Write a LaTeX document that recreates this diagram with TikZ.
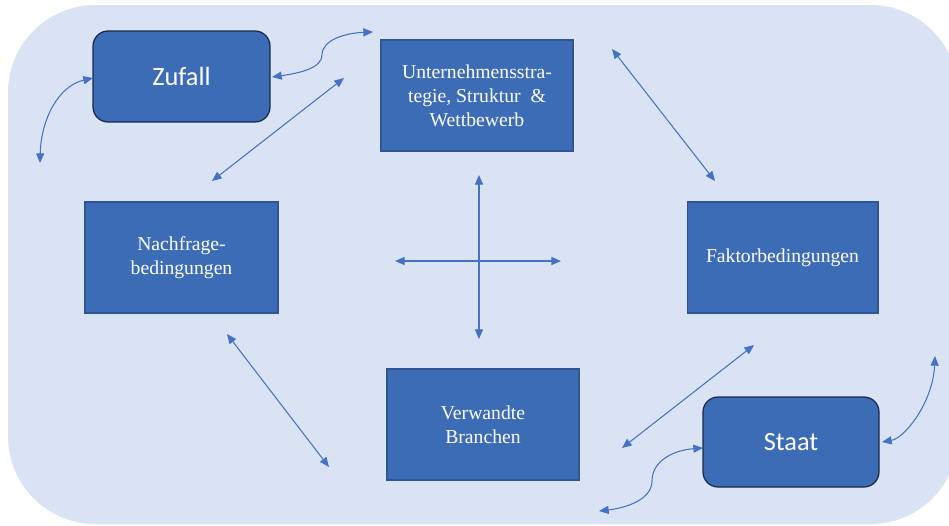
\documentclass[tikz,border=0pt]{standalone}
\usepackage{fontspec}
\setmainfont{Liberation Serif}
\newfontfamily\calib{Carlito}
\usetikzlibrary{arrows.meta}
\definecolor{bgblue}{RGB}{218,227,243}
\definecolor{boxblue}{RGB}{61,108,182}
\definecolor{boxedge}{RGB}{47,85,151}
\definecolor{navy}{RGB}{23,40,72}
\definecolor{arrowblue}{RGB}{68,114,196}
\tikzset{
  sqbox/.style={draw=boxedge, line width=0.6pt, fill=boxblue, text=white, align=center,
    minimum width=3.84cm, minimum height=2.22cm, inner sep=0pt,
    font=\fontsize{11.2}{13.6}\selectfont},
  rbox/.style={draw=navy, line width=0.7pt, fill=boxblue, text=white, rounded corners=0.3cm,
    inner sep=0pt, font=\calib\fontsize{15}{18}\selectfont},
  link/.style={draw=arrowblue, line width=0.6pt,
    {Triangle[length=5.5pt,width=4.6pt]}-{Triangle[length=5.5pt,width=4.6pt]}}
}
\begin{document}
\begin{tikzpicture}[x=0.02cm, y=-0.02cm]
\useasboundingbox (0,0) rectangle (949,525);
\clip (0,0) rectangle (949,525);
\fill[bgblue, rounded corners=1.75cm] (8,5) rectangle (958,524);

\node[rbox, minimum width=3.54cm, minimum height=1.82cm] (zufall) at (181.5,76.5) {Zufall};
\node[sqbox] (unter) at (477,95.5) {Unternehmensstra-\\tegie, Struktur~ \&\\Wettbewerb};
\node[sqbox, minimum width=3.86cm] (nach) at (181.5,257.5) {Nachfrage-\\bedingungen};
\node[sqbox, minimum width=3.82cm] (faktor) at (782.5,257.5) {Faktorbedingungen};
\node[sqbox] (verw) at (483,424.5) {Verwandte\\Branchen};
\node[rbox, minimum width=3.52cm, minimum height=1.8cm] (staat) at (791,442) {Staat};

% free ends
\coordinate (z1) at (40,163);
\coordinate (zw) at (93,78);
\coordinate (ze) at (272,77);
\coordinate (z2) at (373,32);
\coordinate (a1) at (212,181);
\coordinate (a2) at (344,78);
\coordinate (b1) at (612,49);
\coordinate (b2) at (715,181);
\coordinate (cT) at (479,175);
\coordinate (cB) at (479,339);
\coordinate (cL) at (395,261);
\coordinate (cR) at (561,261);
\coordinate (d1) at (227,334);
\coordinate (d2) at (329,467);
\coordinate (e1) at (622,448);
\coordinate (e2) at (754,345);
\coordinate (sw) at (703,448);
\coordinate (s1) at (599,511);
\coordinate (se) at (882,442);
\coordinate (s2) at (935,356);

\draw[link] (z1) .. controls (41,120) and (58,86) .. (zw);
\draw[link] (ze) .. controls (300,73) and (322,68) .. (322,55) .. controls (322,40) and (345,33) .. (z2);
\draw[link] (a1) -- (a2);
\draw[link] (b1) -- (b2);
\draw[link] (cT) -- (cB);
\draw[link] (cL) -- (cR);
\draw[link] (d1) -- (d2);
\draw[link] (e1) -- (e2);
\draw[link] (s1) .. controls (625,508) and (652,500) .. (652,481) .. controls (652,460) and (675,450) .. (sw);
\draw[link] (se) .. controls (905,438) and (933,402) .. (s2);
\end{tikzpicture}
\end{document}
